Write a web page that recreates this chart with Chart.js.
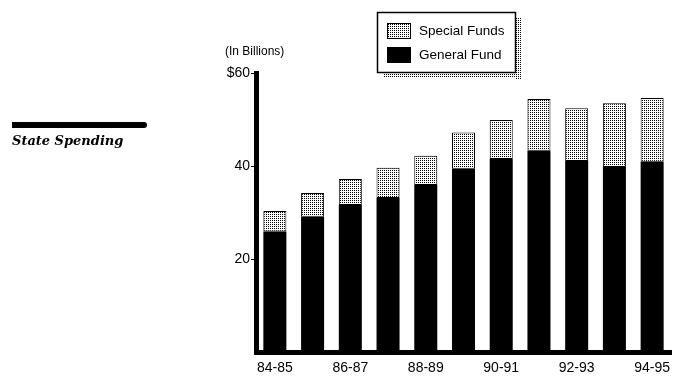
<!DOCTYPE html>
<html>
<head>
<meta charset="utf-8">
<script src="https://cdn.jsdelivr.net/npm/chart.js@4"></script>
<style>
  html, body { margin: 0; padding: 0; background: #fff; }
  #wrap { position: relative; width: 682px; height: 379px; }
</style>
</head>
<body>
<div id="wrap"><canvas id="spendChart" width="682" height="379"></canvas></div>
<script>
// =============================
// DATA (billions of dollars)
// =============================
const years = ['84-85', '85-86', '86-87', '87-88', '88-89', '89-90', '90-91', '91-92', '92-93', '93-94', '94-95'];
const generalFund = [25.9, 29.1, 31.6, 33.1, 35.9, 39.4, 41.5, 43.3, 41.1, 39.8, 40.9];
const specialFunds = [4.4, 5.1, 5.6, 6.5, 6.3, 7.8, 8.4, 11.1, 11.3, 13.7, 13.7];
const yTicks = [20, 40, 60];

const FONT = '"Liberation Sans", Arial, Helvetica, sans-serif';

// stipple pattern for special funds
function makeDots() {
  const c = document.createElement('canvas');
  c.width = 2; c.height = 2;
  const g = c.getContext('2d');
  g.fillStyle = '#fff';
  g.fillRect(0, 0, 2, 2);
  g.fillStyle = '#000';
  g.fillRect(0, 0, 1, 1);
  return g.createPattern(c, 'repeat');
}

const ctx = document.getElementById('spendChart').getContext('2d');
const dots = makeDots();

// =============================
// EXTRA DRAWING (title, units, legend box)
// =============================
const decorPlugin = {
  id: 'decor',
  afterDraw(chart) {
    const c = chart.ctx;
    c.save();

    // left side title bar + text
    c.fillStyle = '#000';
    c.beginPath();
    c.moveTo(12, 122);
    c.lineTo(144, 122);
    c.arc(144, 125, 3, -Math.PI / 2, Math.PI / 2);
    c.lineTo(12, 128);
    c.closePath();
    c.fill();
    c.font = 'italic bold 13px "DejaVu Serif", serif';
    c.textBaseline = 'middle';
    c.textAlign = 'left';
    c.fillText('State Spending', 12, 142);

    // units
    c.font = '12px ' + FONT;
    c.fillText('(In Billions)', 225, 52);

    // legend box with stipple shadow
    const bx = 377, by = 12, bw = 139, bh = 61;
    c.fillStyle = dots;
    c.fillRect(bx + 6, by + bh, bw, 5);
    c.fillRect(bx + bw, by + 6, 5, bh);
    c.fillStyle = '#fff';
    c.fillRect(bx, by, bw, bh);
    c.strokeStyle = '#000';
    c.lineWidth = 1.5;
    c.strokeRect(bx + 0.5, by + 0.5, bw - 1, bh - 1);

    const items = [chart.data.datasets[1], chart.data.datasets[0]];
    c.font = '13.5px ' + FONT;
    items.forEach((ds, i) => {
      const sy = 23 + i * 24;
      c.fillStyle = ds.backgroundColor;
      c.fillRect(387, sy, 24, 16);
      c.lineWidth = 1;
      c.strokeStyle = '#000';
      c.strokeRect(387.5, sy + 0.5, 23, 15);
      c.fillStyle = '#000';
      c.fillText(ds.label, 419, sy + 8);
    });

    c.restore();
  }
};

new Chart(ctx, {
  type: 'bar',
  data: {
    labels: years,
    datasets: [
      {
        label: 'General Fund',
        data: generalFund,
        backgroundColor: '#000',
        borderWidth: 0
      },
      {
        label: 'Special Funds',
        data: specialFunds,
        backgroundColor: dots,
        borderColor: '#000',
        borderWidth: 1,
        borderSkipped: false
      }
    ]
  },
  options: {
    responsive: false,
    animation: false,
    devicePixelRatio: 1,
    layout: { padding: { left: 0, right: 11, top: 73, bottom: 0 } },
    datasets: {
      bar: { categoryPercentage: 1, barPercentage: 0.61 }
    },
    plugins: {
      legend: { display: false },
      tooltip: { enabled: false }
    },
    scales: {
      x: {
        stacked: true,
        afterFit(s) { s.height = 27; },
        grid: { display: false, drawTicks: false },
        border: { display: true, color: '#000', width: 5 },
        ticks: {
          color: '#000',
          font: { family: FONT, size: 14 },
          padding: 8,
          autoSkip: false,
          maxRotation: 0,
          callback(v, i) { return i % 2 === 0 ? this.getLabelForValue(v) : ''; }
        }
      },
      y: {
        stacked: true,
        min: 0,
        max: 60,
        afterFit(s) { s.width = 256; },
        afterBuildTicks(s) { s.ticks = yTicks.map(v => ({ value: v })); },
        grid: {
          drawOnChartArea: false,
          drawTicks: true,
          tickLength: 5,
          tickColor: '#000',
          tickWidth: 1
        },
        border: { display: true, color: '#000', width: 5 },
        ticks: {
          color: '#000',
          font: { family: FONT, size: 14 },
          padding: 1,
          callback(v) { return v === 60 ? '$' + v : String(v); }
        }
      }
    }
  },
  plugins: [decorPlugin]
});
</script>
</body>
</html>
